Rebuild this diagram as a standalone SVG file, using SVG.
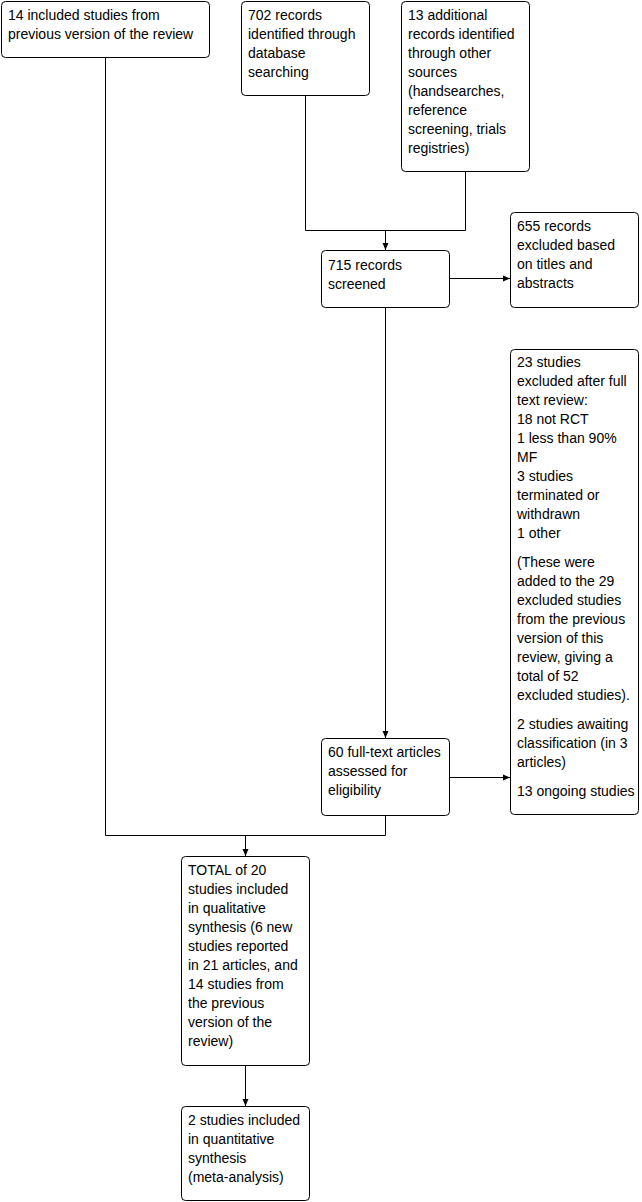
<svg xmlns="http://www.w3.org/2000/svg" width="642" height="1202" viewBox="0 0 642 1202">
<defs>
<style>
.box{fill:#fff;stroke:#000;stroke-width:1}
.t{font-family:"Liberation Sans",Arial,sans-serif;font-size:14px;fill:#000}
.c{fill:none;stroke:#000;stroke-width:1}
</style>
<marker id="ah" markerWidth="8" markerHeight="8" refX="7" refY="4" orient="auto" markerUnits="userSpaceOnUse">
<path d="M0,1 L7,4 L0,7 Z" fill="#000"/>
</marker>
</defs>
<rect width="642" height="1202" fill="#fff"/>
<g id="connectors">
<path class="c" d="M105.5,57.5 V835.5 H385.5 V815.5"/>
<path class="c" d="M245.5,835.5 V856" marker-end="url(#ah)"/>
<path class="c" d="M305.5,95.5 V230.5 H465.5 V171.5"/>
<path class="c" d="M385.5,230.5 V250" marker-end="url(#ah)"/>
<path class="c" d="M449.5,278.5 H510" marker-end="url(#ah)"/>
<path class="c" d="M385.5,307.5 V738" marker-end="url(#ah)"/>
<path class="c" d="M449.5,777.5 H510" marker-end="url(#ah)"/>
<path class="c" d="M245.5,1065.5 V1106" marker-end="url(#ah)"/>
</g>
<g id="n1">
<rect class="box" x="1.5" y="1.5" width="208" height="56" rx="4"/>
<text class="t" x="8"><tspan x="8" y="20">14 included studies from</tspan><tspan x="8" y="39">previous version of the review</tspan></text>
</g>
<g id="n2">
<rect class="box" x="241.5" y="1.5" width="128" height="94" rx="4"/>
<text class="t"><tspan x="248" y="20">702 records</tspan><tspan x="248" y="39">identified through</tspan><tspan x="248" y="58">database</tspan><tspan x="248" y="77">searching</tspan></text>
</g>
<g id="n3">
<rect class="box" x="401.5" y="1.5" width="128" height="170" rx="4"/>
<text class="t"><tspan x="408" y="20">13 additional</tspan><tspan x="408" y="39">records identified</tspan><tspan x="408" y="58">through other</tspan><tspan x="408" y="77">sources</tspan><tspan x="408" y="96">(handsearches,</tspan><tspan x="408" y="115">reference</tspan><tspan x="408" y="134">screening, trials</tspan><tspan x="408" y="153">registries)</tspan></text>
</g>
<g id="n4">
<rect class="box" x="321.5" y="250.5" width="128" height="57" rx="4"/>
<text class="t"><tspan x="328" y="270">715 records</tspan><tspan x="328" y="289">screened</tspan></text>
</g>
<g id="n5">
<rect class="box" x="510.5" y="212.5" width="128" height="95" rx="4"/>
<text class="t"><tspan x="517" y="231">655 records</tspan><tspan x="517" y="250">excluded based</tspan><tspan x="517" y="269">on titles and</tspan><tspan x="517" y="288">abstracts</tspan></text>
</g>
<g id="n6">
<rect class="box" x="510.5" y="349.5" width="128" height="465" rx="4"/>
<text class="t"><tspan x="517" y="367">23 studies</tspan><tspan x="517" y="386">excluded after full</tspan><tspan x="517" y="405">text review:</tspan><tspan x="517" y="424">18 not RCT</tspan><tspan x="517" y="443">1 less than 90%</tspan><tspan x="517" y="462">MF</tspan><tspan x="517" y="481">3 studies</tspan><tspan x="517" y="500">terminated or</tspan><tspan x="517" y="519">withdrawn</tspan><tspan x="517" y="538">1 other</tspan><tspan x="517" y="567">(These were</tspan><tspan x="517" y="586">added to the 29</tspan><tspan x="517" y="605">excluded studies</tspan><tspan x="517" y="624">from the previous</tspan><tspan x="517" y="643">version of this</tspan><tspan x="517" y="662">review, giving a</tspan><tspan x="517" y="681">total of 52</tspan><tspan x="517" y="700">excluded studies).</tspan><tspan x="517" y="729">2 studies awaiting</tspan><tspan x="517" y="748">classification (in 3</tspan><tspan x="517" y="767">articles)</tspan><tspan x="517" y="796">13 ongoing studies</tspan></text>
</g>
<g id="n7">
<rect class="box" x="321.5" y="738.5" width="128" height="77" rx="4"/>
<text class="t"><tspan x="328" y="757">60 full-text articles</tspan><tspan x="328" y="776">assessed for</tspan><tspan x="328" y="795">eligibility</tspan></text>
</g>
<g id="n8">
<rect class="box" x="181.5" y="856.5" width="128" height="209" rx="4"/>
<text class="t"><tspan x="188" y="875">TOTAL of 20</tspan><tspan x="188" y="894">studies included</tspan><tspan x="188" y="913">in qualitative</tspan><tspan x="188" y="932">synthesis (6 new</tspan><tspan x="188" y="951">studies reported</tspan><tspan x="188" y="970">in 21 articles, and</tspan><tspan x="188" y="989">14 studies from</tspan><tspan x="188" y="1008">the previous</tspan><tspan x="188" y="1027">version of the</tspan><tspan x="188" y="1046">review)</tspan></text>
</g>
<g id="n9">
<rect class="box" x="181.5" y="1106.5" width="128" height="94" rx="4"/>
<text class="t"><tspan x="188" y="1125">2 studies included</tspan><tspan x="188" y="1144">in quantitative</tspan><tspan x="188" y="1163">synthesis</tspan><tspan x="188" y="1182">(meta-analysis)</tspan></text>
</g>
</svg>
